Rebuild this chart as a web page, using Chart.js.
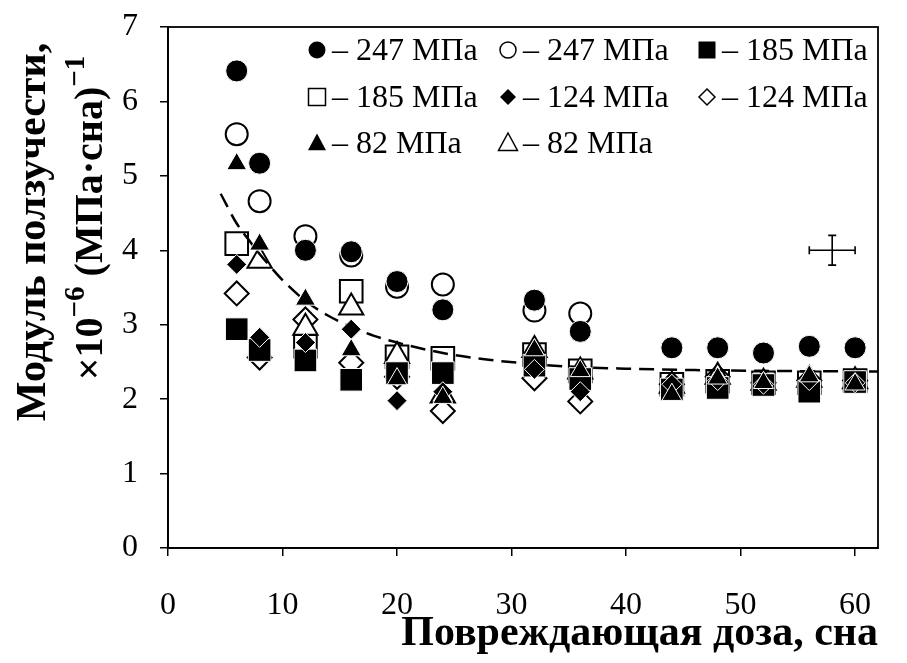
<!DOCTYPE html>
<html>
<head>
<meta charset="utf-8">
<script src="https://cdn.jsdelivr.net/npm/chart.js@4"></script>
<style>
  html, body { margin: 0; padding: 0; background: #fff; }
  #wrap { width: 907px; height: 663px; }
</style>
</head>
<body>
<div id="wrap"><canvas id="myChart" width="907" height="663"></canvas></div>
<script>
// damaging dose, dpa
const dose = [6, 8, 12, 16, 20, 24, 32, 36, 44, 48, 52, 56, 60];

// creep modulus, x10^-6 (MPa*dpa)^-1
const fc247 = [6.41, 5.17, 4.00, 3.98, 3.58, 3.20, 3.33, 2.91, 2.69, 2.69, 2.62, 2.71, 2.69];
const oc247 = [5.56, 4.66, 4.19, 3.93, 3.51, 3.54, 3.19, 3.15, null, null, null, null, null];
const fs185 = [2.94, 2.66, 2.52, 2.26, 2.35, 2.35, 2.45, 2.27, 2.13, 2.15, 2.19, 2.10, 2.23];
const os185 = [4.09, null, 2.71, 3.45, 2.57, 2.55, 2.60, 2.38, 2.20, 2.24, 2.22, 2.22, 2.25];
const fd124 = [3.81, 2.83, 2.76, 2.94, 1.98, 2.10, 2.40, 2.10, 2.20, 2.25, 2.20, 2.25, 2.22];
const od124 = [3.42, 2.56, 3.07, 2.49, 2.30, 1.84, 2.28, 1.97, 2.20, 2.30, 2.22, 2.25, 2.25];
const ft82  = [5.16, 4.08, 3.34, 2.66, 2.27, 2.02, 2.66, 2.38, 2.06, 2.28, 2.22, 2.31, 2.20];
const ot82  = [null, 3.86, 2.96, 3.23, 2.58, 2.05, 2.66, 2.37, 2.18, 2.30, 2.22, 2.26, 2.24];

// fitted curve
const fitDose    = [4.6, 6, 7, 8, 9, 10, 12, 14, 16, 18, 20, 24, 28, 32, 36, 40, 46, 52, 62];
const fitModulus = [4.76, 4.36, 4.15, 3.95, 3.77, 3.60, 3.32, 3.12, 2.97, 2.85, 2.76, 2.62, 2.53, 2.47, 2.43, 2.41, 2.39, 2.38, 2.37];

// typical error
const errDose = [58];
const errModulus = [4.0];
const errDoseHalf = [2];
const errModulusHalf = [0.2];

const xTickValues = [0, 10, 20, 30, 40, 50, 60];
const yTickValues = [0, 1, 2, 3, 4, 5, 6, 7];

const legendLabels = ['– 247 МПа', '– 247 МПа', '– 185 МПа', '– 185 МПа', '– 124 МПа', '– 124 МПа', '– 82 МПа', '– 82 МПа'];

const serif = '"Liberation Serif", "Times New Roman", serif';

function pts(ys) {
  return dose.map((x, i) => ({ x: x, y: ys[i] })).filter(p => p.y !== null);
}

function filled(label, ys, style, r) {
  return {
    label: label, data: pts(ys), pointStyle: style, pointRadius: r, pointHoverRadius: r,
    backgroundColor: '#000', borderColor: '#fff', borderWidth: 1, showLine: false
  };
}
function hollow(label, ys, style, r) {
  return {
    label: label, data: pts(ys), pointStyle: style, pointRadius: r, pointHoverRadius: r,
    backgroundColor: '#fff', borderColor: '#000', borderWidth: 2, showLine: false
  };
}

// first dataset is drawn on top
const datasets = [
  filled('247 f', fc247, 'circle', 11),
  filled('82 f', ft82, 'triangle', 11.5),
  filled('124 f', fd124, 'rectRot', 10),
  filled('185 f', fs185, 'rect', 16),
  {
    label: 'fit', type: 'line',
    data: fitDose.map((x, i) => ({ x: x, y: fitModulus[i] })),
    borderColor: '#000', borderWidth: 2.5, borderDash: [15, 8],
    pointRadius: 0, fill: false, cubicInterpolationMode: 'monotone'
  },
  hollow('247 o', oc247, 'circle', 11),
  hollow('82 o', ot82, 'triangle', 14),
  hollow('124 o', od124, 'rectRot', 12),
  hollow('185 o', os185, 'rect', 16)
];

function marker(ctx, style, x, y, r, solid) {
  ctx.save();
  ctx.beginPath();
  if (style === 'circle') {
    ctx.arc(x, y, r, 0, Math.PI * 2);
  } else if (style === 'rect') {
    ctx.rect(x - r, y - r, 2 * r, 2 * r);
  } else if (style === 'rectRot') {
    ctx.moveTo(x, y - r); ctx.lineTo(x + r, y); ctx.lineTo(x, y + r); ctx.lineTo(x - r, y);
    ctx.closePath();
  } else {
    ctx.moveTo(x, y - r); ctx.lineTo(x + r * 0.95, y + r * 0.75); ctx.lineTo(x - r * 0.95, y + r * 0.75);
    ctx.closePath();
  }
  if (solid) {
    ctx.fillStyle = '#000'; ctx.fill();
  } else {
    ctx.fillStyle = '#fff'; ctx.fill();
    ctx.strokeStyle = '#000'; ctx.lineWidth = 1.5; ctx.stroke();
  }
  ctx.restore();
}

// rich text: [text, size, raise]
function richLine(ctx, parts, cx, cy, bold) {
  let w = 0;
  parts.forEach(p => {
    ctx.font = (bold ? 'bold ' : '') + p[1] + 'px ' + serif;
    w += ctx.measureText(p[0]).width;
  });
  let x = cx - w / 2;
  parts.forEach(p => {
    ctx.font = (bold ? 'bold ' : '') + p[1] + 'px ' + serif;
    ctx.fillText(p[0], x, cy - p[2]);
    x += ctx.measureText(p[0]).width;
  });
}

const decor = {
  id: 'decor',
  beforeDatasetsDraw(chart) {
    const { ctx, chartArea: a } = chart;
    ctx.save();
    ctx.strokeStyle = '#000';
    ctx.lineWidth = 1.8;
    ctx.strokeRect(a.left, a.top, a.right - a.left, a.bottom - a.top);
    ctx.restore();
  },
  afterDraw(chart) {
    const { ctx } = chart;
    const xs = chart.scales.x, ys = chart.scales.y;
    ctx.save();
    ctx.fillStyle = '#000';
    ctx.strokeStyle = '#000';

    // error cross
    ctx.lineWidth = 1.6;
    errDose.forEach((d, i) => {
      const cx = xs.getPixelForValue(d), cy = ys.getPixelForValue(errModulus[i]);
      const x0 = xs.getPixelForValue(d - errDoseHalf[i]), x1 = xs.getPixelForValue(d + errDoseHalf[i]);
      const y0 = ys.getPixelForValue(errModulus[i] - errModulusHalf[i]), y1 = ys.getPixelForValue(errModulus[i] + errModulusHalf[i]);
      ctx.beginPath();
      ctx.moveTo(x0, cy); ctx.lineTo(x1, cy);
      ctx.moveTo(cx, y0); ctx.lineTo(cx, y1);
      ctx.moveTo(x0, cy - 4); ctx.lineTo(x0, cy + 4);
      ctx.moveTo(x1, cy - 4); ctx.lineTo(x1, cy + 4);
      ctx.moveTo(cx - 4, y0); ctx.lineTo(cx + 4, y0);
      ctx.moveTo(cx - 4, y1); ctx.lineTo(cx + 4, y1);
      ctx.stroke();
    });

    // legend, three columns
    const colX = [317, 508, 707];
    const rowY = [50, 97, 143];
    const styles = [['circle', true, 8.5], ['circle', false, 8], ['rect', true, 8.5], ['rect', false, 8.5],
                    ['rectRot', true, 8], ['rectRot', false, 8], ['triangle', true, 9.5], ['triangle', false, 10]];
    ctx.font = '32px ' + serif;
    ctx.textBaseline = 'middle';
    ctx.textAlign = 'left';
    legendLabels.forEach((t, i) => {
      const x = colX[i % 3], y = rowY[Math.floor(i / 3)];
      const s = styles[i];
      marker(ctx, s[0], x, y, s[2], s[1]);
      ctx.fillStyle = '#000';
      ctx.fillText(t, x + 15, y + 2);
    });

    // axis titles
    ctx.textBaseline = 'alphabetic';
    ctx.textAlign = 'right';
    ctx.font = 'bold 42px ' + serif;
    ctx.fillText('Повреждающая доза, сна', 878, 645);

    ctx.textAlign = 'left';
    ctx.save();
    ctx.translate(45, 232);
    ctx.rotate(-Math.PI / 2);
    richLine(ctx, [['Модуль ползучести,', 42, 0]], 0, 0, true);
    ctx.restore();

    ctx.save();
    ctx.translate(102, 218);
    ctx.rotate(-Math.PI / 2);
    richLine(ctx, [['×10', 40, 0], ['−6', 29, 18], [' (МПа·сна)', 40, 0], ['−1', 29, 18]], 0, 0, true);
    ctx.restore();

    ctx.restore();
  }
};

Chart.defaults.font.family = serif;
Chart.defaults.color = '#000';

const config = {
  type: 'scatter',
  data: { datasets: datasets },
  options: {
    responsive: false,
    animation: false,
    layout: { padding: { left: 0, top: 27, right: 29, bottom: 0 } },
    plugins: { legend: { display: false }, tooltip: { enabled: false } },
    scales: {
      x: {
        type: 'linear', min: 0, max: 62,
        afterFit: s => { s.height = 115; s.paddingLeft = 0; s.paddingRight = 0; },
        afterBuildTicks: s => { s.ticks = xTickValues.map(v => ({ value: v })); },
        grid: { drawOnChartArea: false, drawTicks: true, tickLength: 8, color: '#000', lineWidth: 1.5 },
        border: { display: true, color: '#000', width: 1.8 },
        ticks: { font: { size: 32 }, padding: 30, maxRotation: 0 }
      },
      y: {
        type: 'linear', min: 0, max: 7,
        afterFit: s => { s.width = 168; s.paddingTop = 0; s.paddingBottom = 0; },
        afterBuildTicks: s => { s.ticks = yTickValues.map(v => ({ value: v })); },
        grid: { drawOnChartArea: false, drawTicks: true, tickLength: 8, color: '#000', lineWidth: 1.5 },
        border: { display: true, color: '#000', width: 1.8 },
        ticks: { font: { size: 32 }, padding: 22 }
      }
    }
  },
  plugins: [decor]
};

const myChart = new Chart(document.getElementById('myChart'), config);
</script>
</body>
</html>
